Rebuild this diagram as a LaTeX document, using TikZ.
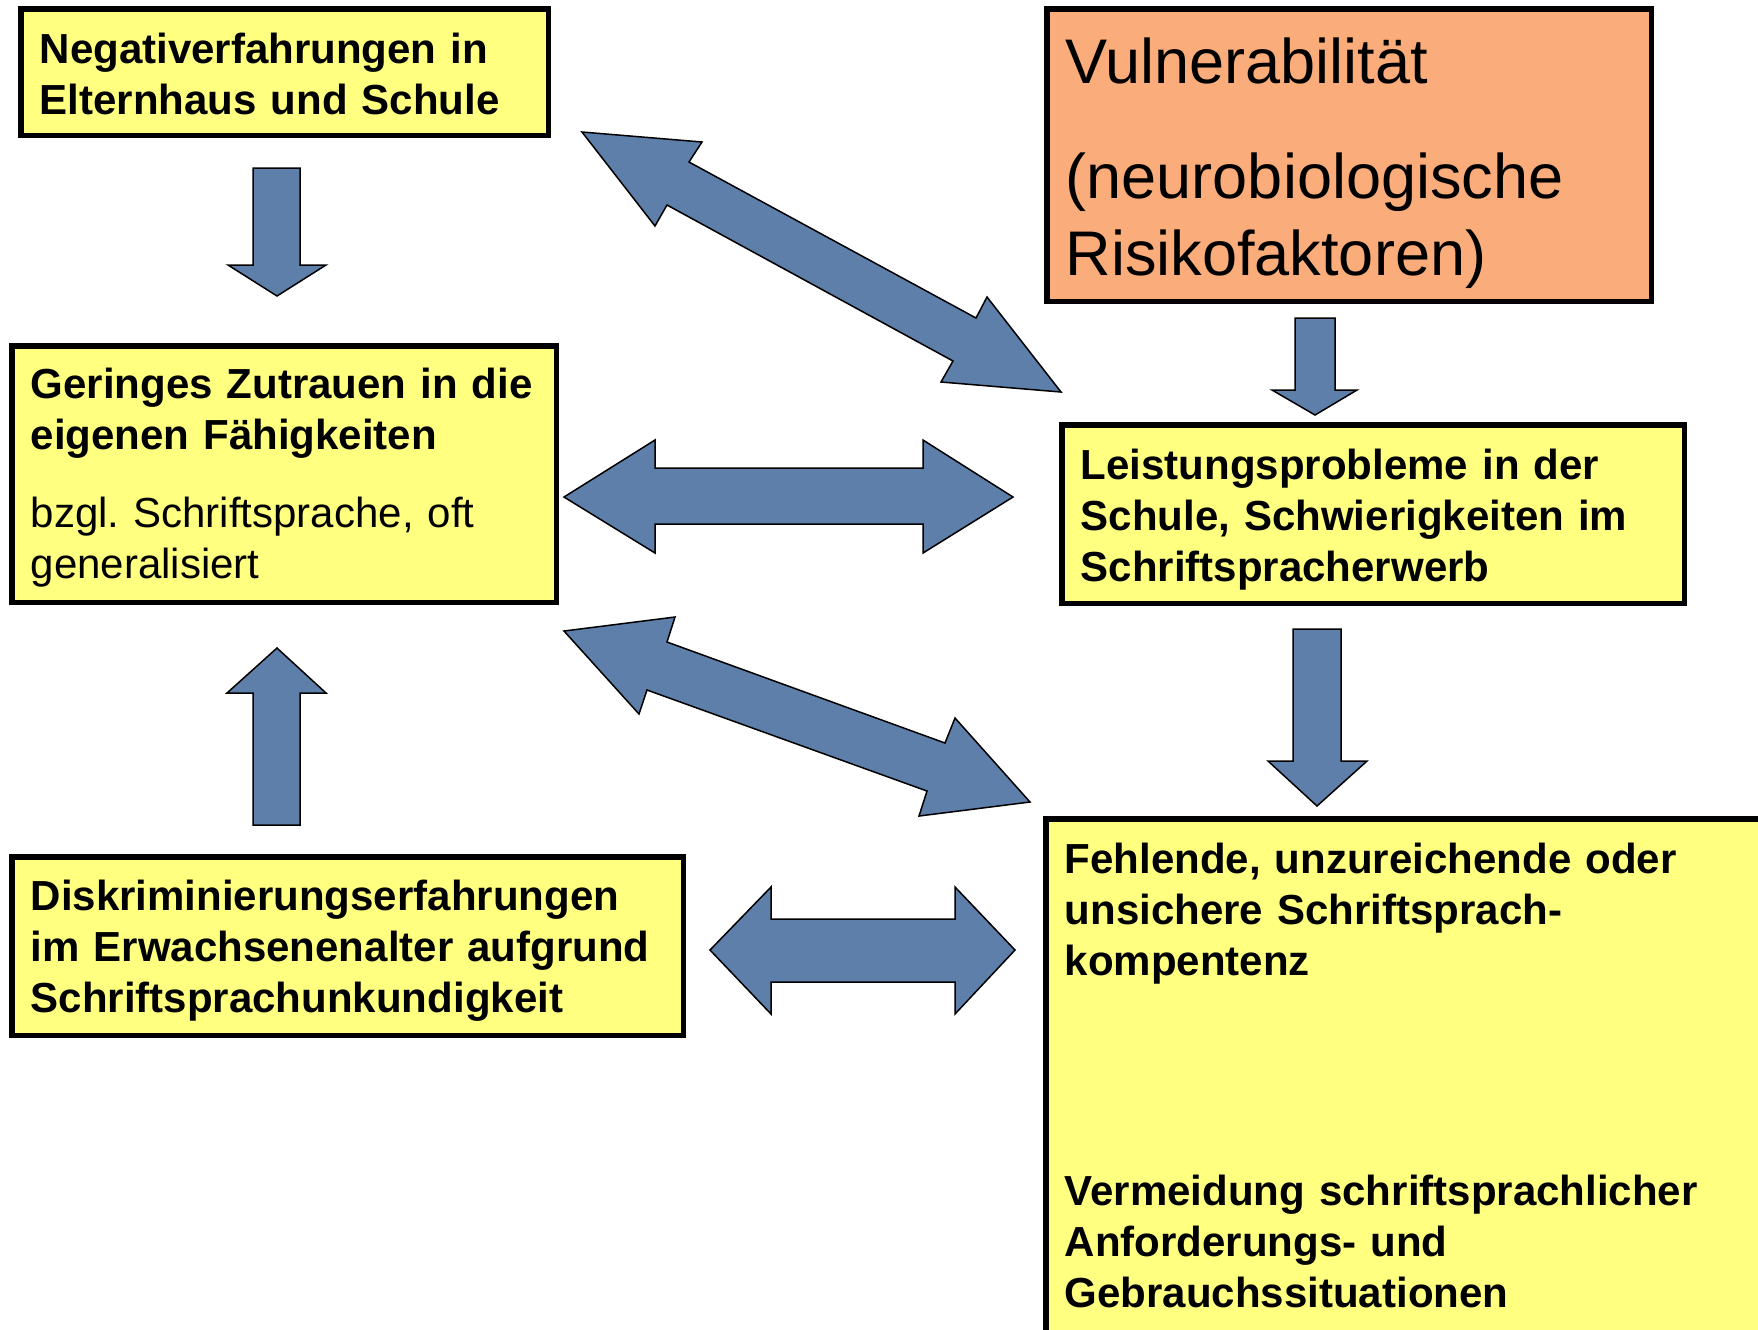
\documentclass[tikz,border=0pt]{standalone}
\usepackage{fontspec}
\setmainfont{Liberation Sans}
\frenchspacing
\definecolor{ybg}{RGB}{255,255,128}
\definecolor{obg}{RGB}{250,172,122}
\definecolor{ablue}{RGB}{94,127,170}
\tikzset{
  ybox/.style={draw=black, line width=0.055cm, fill=ybg},
  obox/.style={draw=black, line width=0.055cm, fill=obg},
  barrow/.style={draw=black, line width=0.015cm, fill=ablue, line join=miter},
  txtbase/.style={anchor=base west, inner sep=0pt, text width=7cm, align=left},
  btxt/.style={txtbase, font=\fontsize{11.95pt}{14.51pt}\selectfont\bfseries},
  rtxt/.style={txtbase, font=\fontsize{11.95pt}{14.51pt}\selectfont},
  vtxt/.style={txtbase, font=\fontsize{17.93pt}{21.9pt}\selectfont}
}
\begin{document}
\begin{tikzpicture}[x=0.01cm, y=-0.01cm]
\useasboundingbox (0,0) rectangle (1758,1329);
\fill[white] (0,0) rectangle (1758,1329);
\clip (0,0) rectangle (1758,1329);

% boxes
\draw[ybox] (20.75,8.75) rectangle (548.25,135.25);
\draw[obox] (1046.75,8.75) rectangle (1651.25,301.25);
\draw[ybox] (11.75,345.75) rectangle (556.25,602.25);
\draw[ybox] (1061.75,424.75) rectangle (1684.25,603.25);
\draw[ybox] (1045.75,818.75) rectangle (1820,1400);
\draw[ybox] (11.75,856.75) rectangle (683.25,1035.25);

% texts
\node[btxt] (A) at (39,63) {Negativerfahrungen in\\Elternhaus und Schule};
\node[vtxt] (B1) at (1065,83) {Vulnerabilität};
\node[vtxt] (B2) at (1065,198) {(neurobiologische\\Risikofaktoren)};
\node[btxt] (C1) at (30,398) {Geringes Zutrauen in die\\eigenen Fähigkeiten};
\node[rtxt] (C2) at (30,527) {bzgl. Schriftsprache, oft\\generalisiert};
\node[btxt] (D) at (1080,479) {Leistungsprobleme in der\\Schule, Schwierigkeiten im\\Schriftspracherwerb};
\node[btxt] (E1) at (1064,873) {Fehlende, unzureichende oder\\unsichere Schriftsprach-\\kompentenz};
\node[btxt] (E2) at (1064,1205) {Vermeidung schriftsprachlicher\\Anforderungs- und\\Gebrauchssituationen};
\node[btxt] (F) at (30,910) {Diskriminierungserfahrungen\\im Erwachsenenalter aufgrund\\Schriftsprachunkundigkeit};

% block arrows
% A -> C (down)
\draw[barrow] (253,168) -- (300,168) -- (300,265) -- (326,265) -- (277,296) -- (228,265) -- (253,265) -- cycle;
% B -> D (down)
\draw[barrow] (1295,318) -- (1335,318) -- (1335,390) -- (1357,390) -- (1315,415) -- (1272,390) -- (1295,390) -- cycle;
% D -> E (down)
\draw[barrow] (1293,629) -- (1341,629) -- (1341,761) -- (1367,761) -- (1317,806) -- (1268,761) -- (1293,761) -- cycle;
% F -> C (up)
\draw[barrow] (253,825) -- (300,825) -- (300,693) -- (326,693) -- (277,648) -- (227,693) -- (253,693) -- cycle;
% C <-> D
\draw[barrow] (564,497) -- (655,440) -- (655,468) -- (923,468) -- (923,440) -- (1013,497) -- (923,553) -- (923,524) -- (655,524) -- (655,553) -- cycle;
% F <-> E
\draw[barrow] (710,950) -- (771,887) -- (771,919) -- (955,919) -- (955,887) -- (1015,950) -- (955,1014) -- (955,982) -- (771,982) -- (771,1014) -- cycle;
% A <-> D (diagonal)
\draw[barrow] (582,132) -- (702,142) -- (689,162) -- (976,318) -- (987,297) -- (1061,392) -- (941,382) -- (953,361) -- (667,205) -- (655,226) -- cycle;
% C <-> E (diagonal)
\draw[barrow] (564,631) -- (675,617) -- (667,642) -- (945,743) -- (955,718) -- (1030,802) -- (919,816) -- (927,791) -- (647,690) -- (639,714) -- cycle;
\end{tikzpicture}
\end{document}
